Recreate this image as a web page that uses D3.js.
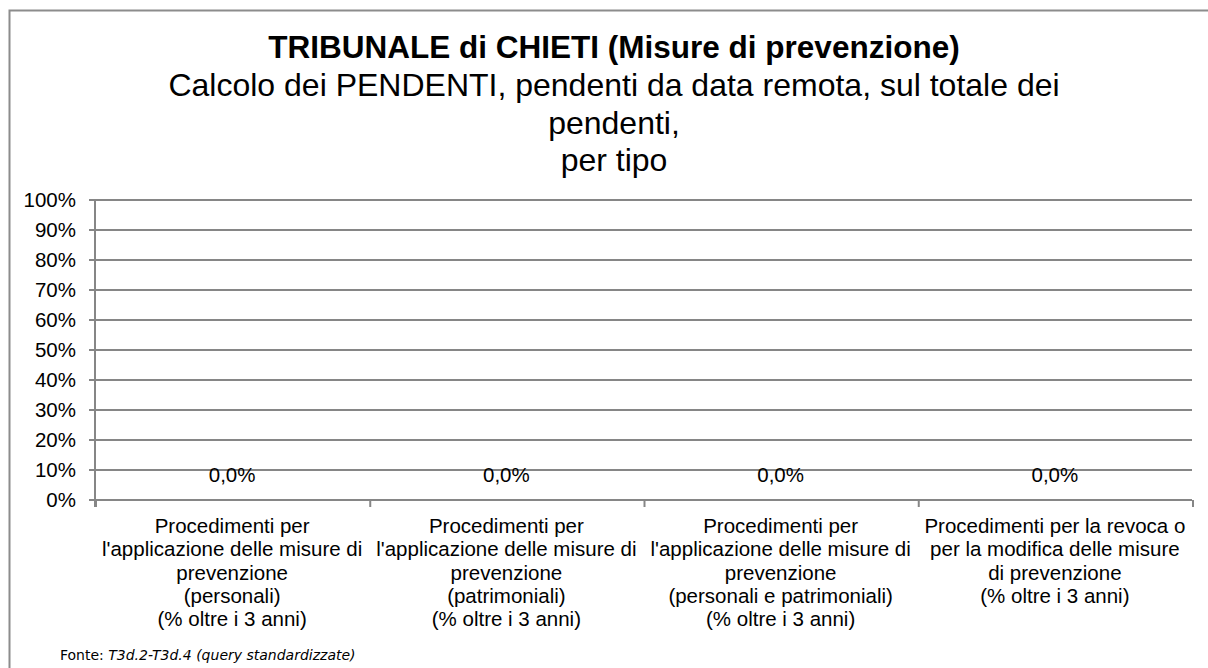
<!DOCTYPE html>
<html>
<head>
<meta charset="utf-8">
<script src="https://cdn.jsdelivr.net/npm/d3@7"></script>
<style>
  body { margin: 0; background: #fff; }
  text { font-family: "Liberation Sans", Arial, sans-serif; fill: #000; }
</style>
</head>
<body>
<div class="chart"></div>
<script>
// Data
var categories = [
  ["Procedimenti per", "l'applicazione delle misure di", "prevenzione", "(personali)", "(% oltre i 3 anni)"],
  ["Procedimenti per", "l'applicazione delle misure di", "prevenzione", "(patrimoniali)", "(% oltre i 3 anni)"],
  ["Procedimenti per", "l'applicazione delle misure di", "prevenzione", "(personali e patrimoniali)", "(% oltre i 3 anni)"],
  ["Procedimenti per la revoca o", "per la modifica delle misure", "di prevenzione", "(% oltre i 3 anni)"]
];
var values = [0, 0, 0, 0];
var yTicks = [0, 0.1, 0.2, 0.3, 0.4, 0.5, 0.6, 0.7, 0.8, 0.9, 1];
var titleLines = ["TRIBUNALE di CHIETI (Misure di prevenzione)"];
var subtitleLines = ["Calcolo dei PENDENTI, pendenti da data remota, sul totale dei", "pendenti,", "per tipo"];

var svgWidth = 1208;
var svgHeight = 668;
var margin = { top: 200, right: 16, bottom: 168, left: 95 };
var width = 1192 - margin.left;
var height = 500 - margin.top;

var svg = d3.select(".chart")
  .append("svg")
  .attr("width", svgWidth)
  .attr("height", svgHeight);

// frame
svg.append("rect")
  .attr("x", 9.5).attr("y", 10.5)
  .attr("width", 1220).attr("height", 700)
  .attr("fill", "none")
  .attr("stroke", "#8c8c8c")
  .attr("stroke-width", 2);

// titles
svg.append("text")
  .attr("x", 614).attr("y", 58)
  .attr("text-anchor", "middle")
  .attr("font-size", 31.5)
  .attr("font-weight", "bold")
  .text(titleLines[0]);

svg.selectAll(".sub")
  .data(subtitleLines)
  .enter()
  .append("text")
  .attr("class", "sub")
  .attr("x", 614)
  .attr("y", (d, i) => 96 + i * 37.5)
  .attr("text-anchor", "middle")
  .attr("font-size", 32)
  .text(d => d);

var chartGroup = svg.append("g")
  .attr("transform", `translate(${margin.left}, ${margin.top})`);

var xScale = d3.scaleBand()
  .domain(d3.range(categories.length))
  .range([0, width]);

var yScale = d3.scaleLinear()
  .domain([0, 1])
  .range([height, 0]);

// gridlines
chartGroup.selectAll(".grid")
  .data(yTicks)
  .enter()
  .append("line")
  .attr("x1", -6)
  .attr("x2", width)
  .attr("y1", d => yScale(d))
  .attr("y2", d => yScale(d))
  .attr("stroke", "#868686")
  .attr("stroke-width", 2);

// y axis
var leftAxis = d3.axisLeft(yScale)
  .tickValues(yTicks)
  .tickFormat(d3.format(".0%"))
  .tickSize(0)
  .tickPadding(19);

var yAxisG = chartGroup.append("g").call(leftAxis);
yAxisG.select(".domain").remove();
yAxisG.selectAll("text")
  .attr("font-size", 20.5)
  .attr("font-family", "Liberation Sans, Arial, sans-serif")
  .attr("fill", "#000");

chartGroup.append("line")
  .attr("x1", 0).attr("x2", 0)
  .attr("y1", 0).attr("y2", height + 7)
  .attr("stroke", "#868686")
  .attr("stroke-width", 2);

// category ticks
chartGroup.selectAll(".ctick")
  .data(d3.range(categories.length + 1))
  .enter()
  .append("line")
  .attr("x1", d => d * xScale.step() + 1)
  .attr("x2", d => d * xScale.step() + 1)
  .attr("y1", height)
  .attr("y2", height + 7)
  .attr("stroke", "#868686")
  .attr("stroke-width", 2);

// bars (zero height)
chartGroup.selectAll(".bar")
  .data(values)
  .enter()
  .append("rect")
  .attr("x", (d, i) => xScale(i) + xScale.bandwidth() * 0.2)
  .attr("width", xScale.bandwidth() * 0.6)
  .attr("y", d => yScale(d))
  .attr("height", d => height - yScale(d))
  .attr("fill", "#4f81bd");

// value labels
chartGroup.selectAll(".vlabel")
  .data(values)
  .enter()
  .append("text")
  .attr("x", (d, i) => xScale(i) + xScale.bandwidth() / 2)
  .attr("y", d => yScale(d) - 18)
  .attr("text-anchor", "middle")
  .attr("font-size", 20.5)
  .text(d => d3.format(".1f")(d * 100).replace(".", ",") + "%");

// category labels
var catG = chartGroup.selectAll(".cat")
  .data(categories)
  .enter()
  .append("text")
  .attr("transform", (d, i) => `translate(${xScale(i) + xScale.bandwidth() / 2}, ${height + 33})`)
  .attr("text-anchor", "middle")
  .attr("font-size", 20.5);

catG.selectAll("tspan")
  .data(d => d)
  .enter()
  .append("tspan")
  .attr("x", 0)
  .attr("y", (d, j) => j * 23.3)
  .text(d => d);

// source note
var fonte = svg.append("text")
  .attr("x", 60).attr("y", 660)
  .attr("font-size", 14)
  .style("font-family", "DejaVu Sans, Verdana, sans-serif");
fonte.append("tspan").text("Fonte: ");
fonte.append("tspan").attr("font-style", "italic").text("T3d.2-T3d.4 (query standardizzate)");
</script>
</body>
</html>
